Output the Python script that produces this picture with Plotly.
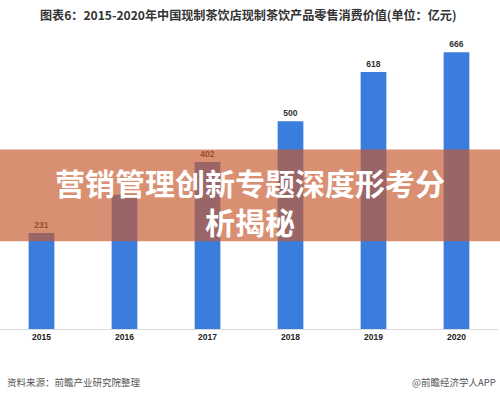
import plotly.graph_objects as go

years = ["2015", "2016", "2017", "2018", "2019", "2020"]
values = [231, 323, 402, 500, 618, 666]
# the 2016 label is hidden behind the banner text in the reference
value_labels = ["231", "", "402", "500", "618", "666"]

title_text = "图表6：2015-2020年中国现制茶饮店现制茶饮产品零售消费价值(单位：亿元)"
banner_text = "营销管理创新专题深度形考分<br>析揭秘"
source_text = "资料来源：前瞻产业研究院整理"
brand_text = "@前瞻经济学人APP"

fig = go.Figure()
fig.add_trace(go.Bar(
    x=years, y=values,
    marker=dict(color="#3B7DDD", line=dict(width=0)),
    text=value_labels, textposition="outside", cliponaxis=False,
    textfont=dict(family="Liberation Sans, Arial", size=8.5, color="#333333", weight="bold"),
    width=0.31, hoverinfo="skip",
))

W, H = 500, 397
ml, mr, mt, mb = 0, 2, 38, 68
ph = H - mt - mb

fig.add_shape(type="rect", xref="paper", yref="y", x0=-0.01, x1=1.01, y0=211, y1=432,
              fillcolor="rgba(199,90,47,0.68)", line=dict(width=0), layer="above")

fig.add_annotation(xref="paper", yref="paper", x=0.502, y=(H - 201 - mb) / ph,
                   text=banner_text, showarrow=False, align="center", yanchor="middle",
                   font=dict(family="Noto Sans CJK SC", size=30, color="white", weight="bold"))

fig.add_annotation(xref="paper", yref="paper", x=0.497, y=1, yshift=24, xanchor="center", yanchor="middle",
                   text=title_text, showarrow=False,
                   font=dict(family="Noto Sans CJK SC", size=12.1, color="#333333", weight="bold"))

fig.add_annotation(xref="paper", yref="paper", x=0, xshift=5, y=0, yshift=-53, xanchor="left", yanchor="middle",
                   text=source_text, showarrow=False,
                   font=dict(family="Noto Sans CJK SC", size=9.5, color="#555555"))
fig.add_annotation(xref="paper", yref="paper", x=1, xshift=0, y=0, yshift=-53, xanchor="right", yanchor="middle",
                   text=brand_text, showarrow=False,
                   font=dict(family="Noto Sans CJK SC", size=9.5, color="#555555"))

fig.update_layout(
    width=W, height=H,
    margin=dict(l=ml, r=mr, t=mt, b=mb, autoexpand=False),
    paper_bgcolor="white", plot_bgcolor="white",
    showlegend=False,
    xaxis=dict(showline=True, linecolor="#d9d9d9", linewidth=1, ticks="", showgrid=False,
               automargin=False,
               tickfont=dict(family="Liberation Sans, Arial", size=8.5, color="#222222", weight="bold"),
               range=[-0.5, 5.5]),
    yaxis=dict(range=[0, 700], visible=False, showgrid=False, zeroline=False, automargin=False),
)

fig.write_html("out.html", config={"displayModeBar": False},
               post_script="document.body.style.margin='0';document.body.style.overflow='hidden';")
